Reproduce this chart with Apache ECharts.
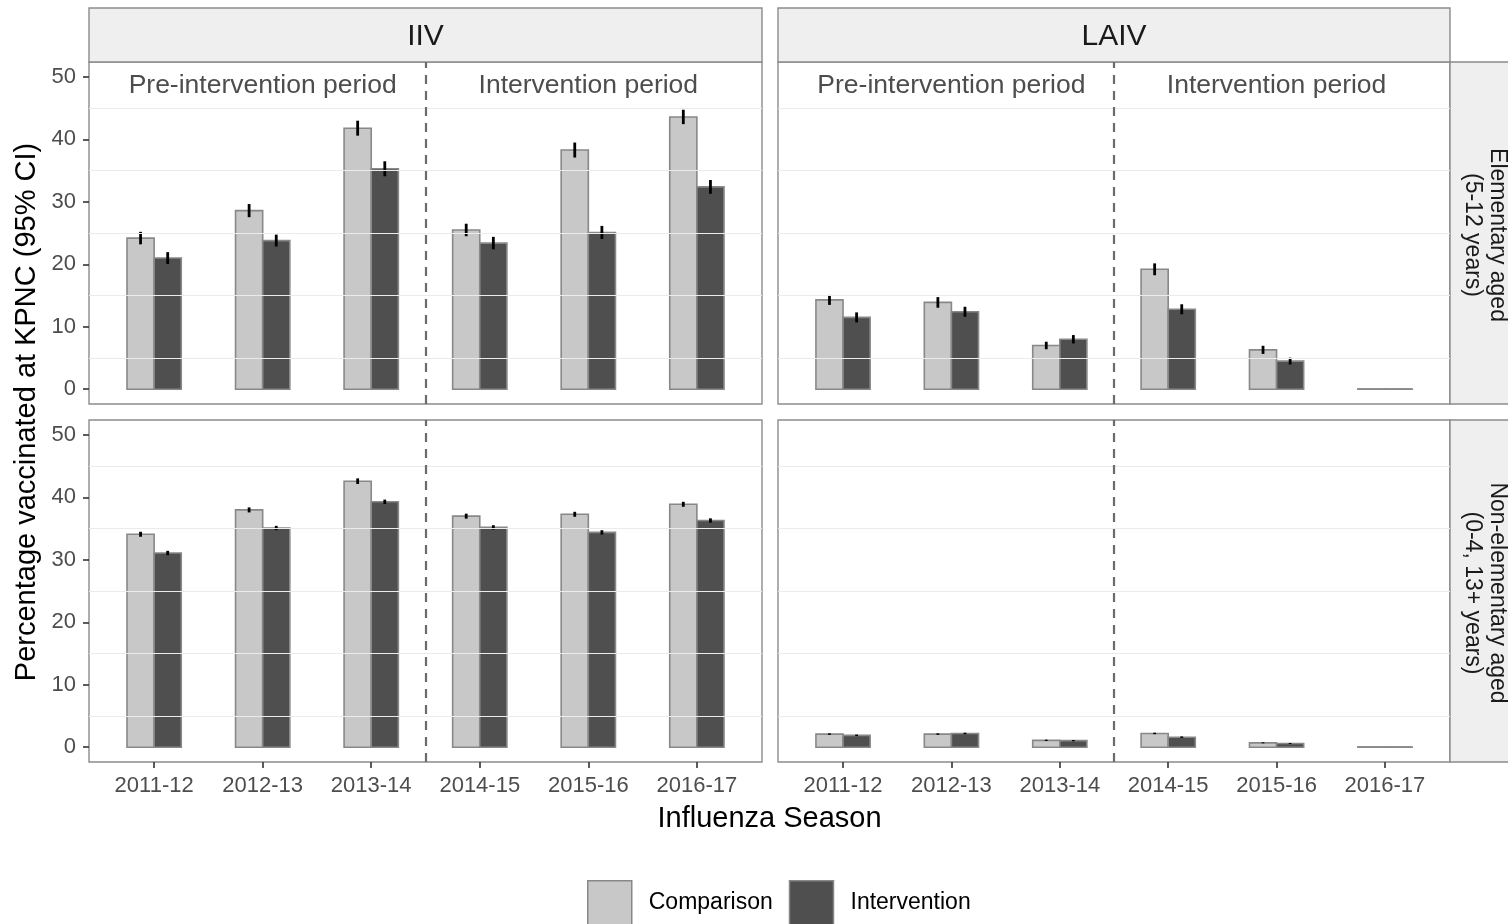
<!DOCTYPE html>
<html>
<head>
<meta charset="utf-8">
<script src="https://cdn.jsdelivr.net/npm/echarts@6/dist/echarts.min.js"></script>
<style>
html,body{margin:0;padding:0;background:#ffffff;}
#chart{width:1508px;height:924px;}
</style>
</head>
<body>
<div id="chart"></div>
<script>
// ---------------- DATA ----------------
const seasons = ['2011-12', '2012-13', '2013-14', '2014-15', '2015-16', '2016-17'];
const vaccines = ['IIV', 'LAIV'];
const ageGroups = ['Elementary aged\n(5-12 years)', 'Non-elementary aged\n(0-4, 13+ years)'];
const groupNames = ['Comparison', 'Intervention'];
const periodNames = ['Pre-intervention period', 'Intervention period'];
const periodSeasonCount = [3, 3];
const yTicks = [0, 10, 20, 30, 40, 50];
const yMinorGrid = [5, 15, 25, 35, 45];

// IIV, elementary aged
const iivElemComp   = [24.2, 28.6, 41.8, 25.5, 38.3, 43.6];
const iivElemCompCI = [1.0, 1.05, 1.2, 1.0, 1.2, 1.15];
const iivElemInt    = [21.0, 23.8, 35.3, 23.4, 25.1, 32.4];
const iivElemIntCI  = [0.95, 0.95, 1.2, 1.0, 1.05, 1.1];
// LAIV, elementary aged
const laivElemComp   = [14.3, 13.9, 7.0, 19.2, 6.3, 0.05];
const laivElemCompCI = [0.8, 0.85, 0.6, 0.95, 0.65, 0];
const laivElemInt    = [11.5, 12.4, 8.0, 12.8, 4.5, 0.05];
const laivElemIntCI  = [0.8, 0.8, 0.67, 0.8, 0.55, 0];
// IIV, non-elementary aged
const iivNonComp   = [34.1, 38.0, 42.6, 37.0, 37.3, 38.9];
const iivNonCompCI = [0.4, 0.4, 0.45, 0.4, 0.4, 0.4];
const iivNonInt    = [31.1, 35.1, 39.3, 35.2, 34.4, 36.3];
const iivNonIntCI  = [0.35, 0.35, 0.35, 0.35, 0.35, 0.35];
// LAIV, non-elementary aged
const laivNonComp   = [2.1, 2.1, 1.1, 2.2, 0.7, 0.05];
const laivNonCompCI = [0.12, 0.12, 0.1, 0.12, 0.08, 0];
const laivNonInt    = [1.9, 2.2, 1.05, 1.6, 0.6, 0.05];
const laivNonIntCI  = [0.12, 0.12, 0.1, 0.12, 0.08, 0];

// ---------------- LAYOUT / STYLE ----------------
const FONT = '"Liberation Sans", Arial, Helvetica, sans-serif';
const COL_LEFT = [89, 778];
const COL_WIDTH = [673, 672];
const ROW_TOP = [62, 420];
const PANEL_H = 342;
const STRIP_TOP = 8;
const RIGHT_STRIP_X = 1450;
const RIGHT_STRIP_W = 70;
const X_MIN = -0.6, X_MAX = 5.6;
const Y_MIN = -2.37, Y_MAX = 52.4;
const BAR_W = 0.25;
const FILLS = ['#c8c8c8', '#4f4f4f'];
const BAR_STROKE = '#888888';
const FRAME = '#8c8c8c';

const panelData = [
  [ {comp: iivElemComp, compCI: iivElemCompCI, int: iivElemInt, intCI: iivElemIntCI},
    {comp: laivElemComp, compCI: laivElemCompCI, int: laivElemInt, intCI: laivElemIntCI} ],
  [ {comp: iivNonComp, compCI: iivNonCompCI, int: iivNonInt, intCI: iivNonIntCI},
    {comp: laivNonComp, compCI: laivNonCompCI, int: laivNonInt, intCI: laivNonIntCI} ]
];

const periodCenters = [];
let acc = 0;
periodSeasonCount.forEach(n => { periodCenters.push(acc + (n - 1) / 2); acc += n; });
const periodBoundary = periodSeasonCount[0] - 0.5;

function makeBarRender(side, fill) {
  return function (params, api) {
    const i = api.value(0), v = api.value(1), lo = api.value(2), hi = api.value(3);
    const x0 = side < 0 ? i - BAR_W : i;
    const x1 = side < 0 ? i : i + BAR_W;
    const pTop = api.coord([x0, v]);
    const pBot = api.coord([x1, 0]);
    const children = [{
      type: 'rect',
      shape: {x: pTop[0], y: pTop[1], width: pBot[0] - pTop[0], height: Math.max(pBot[1] - pTop[1], 0)},
      style: {fill: fill, stroke: BAR_STROKE, lineWidth: 1.6}
    }];
    if (hi > lo) {
      const xc = i + side * BAR_W / 2;
      const a = api.coord([xc, lo]), b = api.coord([xc, hi]);
      children.push({
        type: 'line',
        shape: {x1: a[0], y1: a[1], x2: b[0], y2: b[1]},
        style: {stroke: '#000000', lineWidth: 2.8}
      });
    }
    return {type: 'group', children: children};
  };
}

function periodTextRender(params, api) {
  const p = api.coord([api.value(0), api.value(1)]);
  return {
    type: 'text',
    x: p[0], y: p[1],
    style: {
      text: periodNames[params.dataIndex],
      fontSize: 26.5, fontFamily: FONT, fill: '#4d4d4d',
      align: 'center', verticalAlign: 'middle'
    }
  };
}

const grids = [], xAxes = [], yAxes = [], series = [], graphics = [];
let gi = 0;
for (let r = 0; r < 2; r++) {
  for (let c = 0; c < 2; c++) {
    const showX = r === 1, showY = c === 0;
    grids.push({
      left: COL_LEFT[c], top: ROW_TOP[r], width: COL_WIDTH[c], height: PANEL_H,
      show: true, borderColor: FRAME, borderWidth: 1.4, backgroundColor: '#ffffff'
    });
    xAxes.push({
      gridIndex: gi, type: 'value', min: X_MIN, max: X_MAX, position: 'bottom',
      axisLine: {show: false, onZero: false}, splitLine: {show: false},
      axisTick: {show: showX, customValues: seasons.map((s, k) => k), length: 6,
                 lineStyle: {color: '#333333', width: 1.6}},
      axisLabel: {show: showX, customValues: seasons.map((s, k) => k),
                  formatter: v => (Math.abs(v - Math.round(v)) < 1e-6 && seasons[Math.round(v)]) || '',
                  fontSize: 22, fontFamily: FONT, color: '#4d4d4d', margin: 13}
    });
    yAxes.push({
      gridIndex: gi, type: 'value', min: Y_MIN, max: Y_MAX, position: 'left',
      axisLine: {show: false, onZero: false}, splitLine: {show: false},
      axisTick: {show: showY, customValues: yTicks, length: 6,
                 lineStyle: {color: '#333333', width: 1.6}},
      axisLabel: {show: showY, customValues: yTicks,
                  formatter: v => (yTicks.indexOf(v) >= 0 ? String(v) : ''),
                  fontSize: 22, fontFamily: FONT, color: '#4d4d4d', margin: 13}
    });
    series.push({
      type: 'line', xAxisIndex: gi, yAxisIndex: gi, data: [], silent: true, z: 1,
      markLine: {
        silent: true, symbol: ['none', 'none'], animation: false,
        label: {show: false},
        data: yMinorGrid.map(v => ({yAxis: v, lineStyle: {color: '#ebebeb', width: 1.2, type: 'solid'}}))
          .concat([{xAxis: periodBoundary, lineStyle: {color: '#6b6b6b', width: 2.2, type: [9, 7]}}])
      }
    });
    const d = panelData[r][c];
    [[d.comp, d.compCI, -1], [d.int, d.intCI, 1]].forEach((g, k) => {
      series.push({
        type: 'custom', name: groupNames[k], xAxisIndex: gi, yAxisIndex: gi, z: 3,
        itemStyle: {color: FILLS[k], borderColor: BAR_STROKE},
        renderItem: makeBarRender(g[2], FILLS[k]),
        encode: {x: 0, y: 1},
        data: seasons.map((s, i) => [i, g[0][i], g[0][i] - g[1][i], g[0][i] + g[1][i]])
      });
    });
    if (r === 0) {
      series.push({
        type: 'custom', xAxisIndex: gi, yAxisIndex: gi, z: 4, silent: true,
        renderItem: periodTextRender, encode: {x: 0, y: 1},
        data: periodCenters.map(x => [x, 48.65])
      });
    }
    gi++;
  }
}

vaccines.forEach((v, c) => {
  graphics.push({
    type: 'rect', shape: {x: COL_LEFT[c], y: STRIP_TOP, width: COL_WIDTH[c], height: ROW_TOP[0] - STRIP_TOP},
    style: {fill: '#efefef', stroke: FRAME, lineWidth: 1.4}, z: 0
  });
  graphics.push({
    type: 'text', x: COL_LEFT[c] + COL_WIDTH[c] / 2, y: (STRIP_TOP + ROW_TOP[0]) / 2 + 1.5,
    style: {text: v, fontSize: 30, fontFamily: FONT, fill: '#1a1a1a', align: 'center', verticalAlign: 'middle'}, z: 1
  });
});
ageGroups.forEach((a, r) => {
  graphics.push({
    type: 'rect', shape: {x: RIGHT_STRIP_X, y: ROW_TOP[r], width: RIGHT_STRIP_W, height: PANEL_H},
    style: {fill: '#efefef', stroke: FRAME, lineWidth: 1.4}, z: 0
  });
  graphics.push({
    type: 'text', x: RIGHT_STRIP_X + 34.5, y: ROW_TOP[r] + PANEL_H / 2 + 2, rotation: -Math.PI / 2,
    style: {text: a, fontSize: 23, lineHeight: 25, fontFamily: FONT, fill: '#1a1a1a', align: 'center', verticalAlign: 'middle'}, z: 1
  });
});
graphics.push({
  type: 'text', x: 27, y: 412, rotation: Math.PI / 2,
  style: {text: 'Percentage vaccinated at KPNC (95% CI)', fontSize: 29, fontFamily: FONT, fill: '#000000', align: 'center', verticalAlign: 'middle'}
});
graphics.push({
  type: 'text', x: 769.5, y: 819,
  style: {text: 'Influenza Season', fontSize: 29, fontFamily: FONT, fill: '#000000', align: 'center', verticalAlign: 'middle'}
});

const chart = echarts.init(document.getElementById('chart'), null, {renderer: 'canvas'});
chart.setOption({
  animation: false,
  backgroundColor: '#ffffff',
  textStyle: {fontFamily: FONT},
  grid: grids,
  xAxis: xAxes,
  yAxis: yAxes,
  legend: {
    left: 587, top: 880, padding: 0, itemWidth: 44, itemHeight: 44, itemGap: 16,
    selectedMode: false,
    textStyle: {fontSize: 23, fontFamily: FONT, color: '#000000', padding: [0, 0, 0, 12]},
    data: groupNames.map((n, k) => ({name: n, icon: 'rect',
      itemStyle: {color: FILLS[k], borderColor: BAR_STROKE, borderWidth: 1.5}}))
  },
  graphic: graphics,
  series: series
});
</script>
</body>
</html>
